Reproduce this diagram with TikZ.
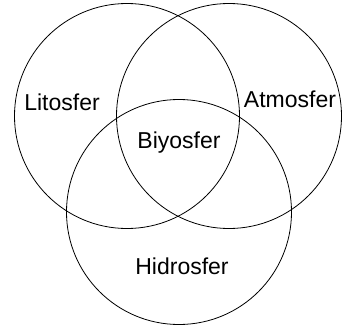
\documentclass[tikz,border=0pt]{standalone}
\usepackage{fontspec}
\setmainfont{Liberation Sans}

\begin{document}
\begin{tikzpicture}[
  x=1pt, y=1pt,
  font=\fontsize{23}{27}\selectfont,
  sphere/.style={
    draw=black,
    circle,
    line width=0.8pt,
    minimum size=225pt,
    inner sep=0pt
  },
  label/.style={anchor=base, inner sep=0pt}
]

\useasboundingbox (0,0) rectangle (342,333);

\node[sphere] (lito) at (127,217) {};
\node[sphere] (atmo) at (229,217) {};
\node[sphere] (hidro) at (179,121) {};

\node[label] (litotext) at (62,223) {Litosfer};
\node[label] (atmotext) at (290,226) {Atmosfer};
\node[label] (biyotext) at (179,185) {Biyosfer};
\node[label] (hidrotext) at (182,59) {Hidrosfer};

\end{tikzpicture}
\end{document}
